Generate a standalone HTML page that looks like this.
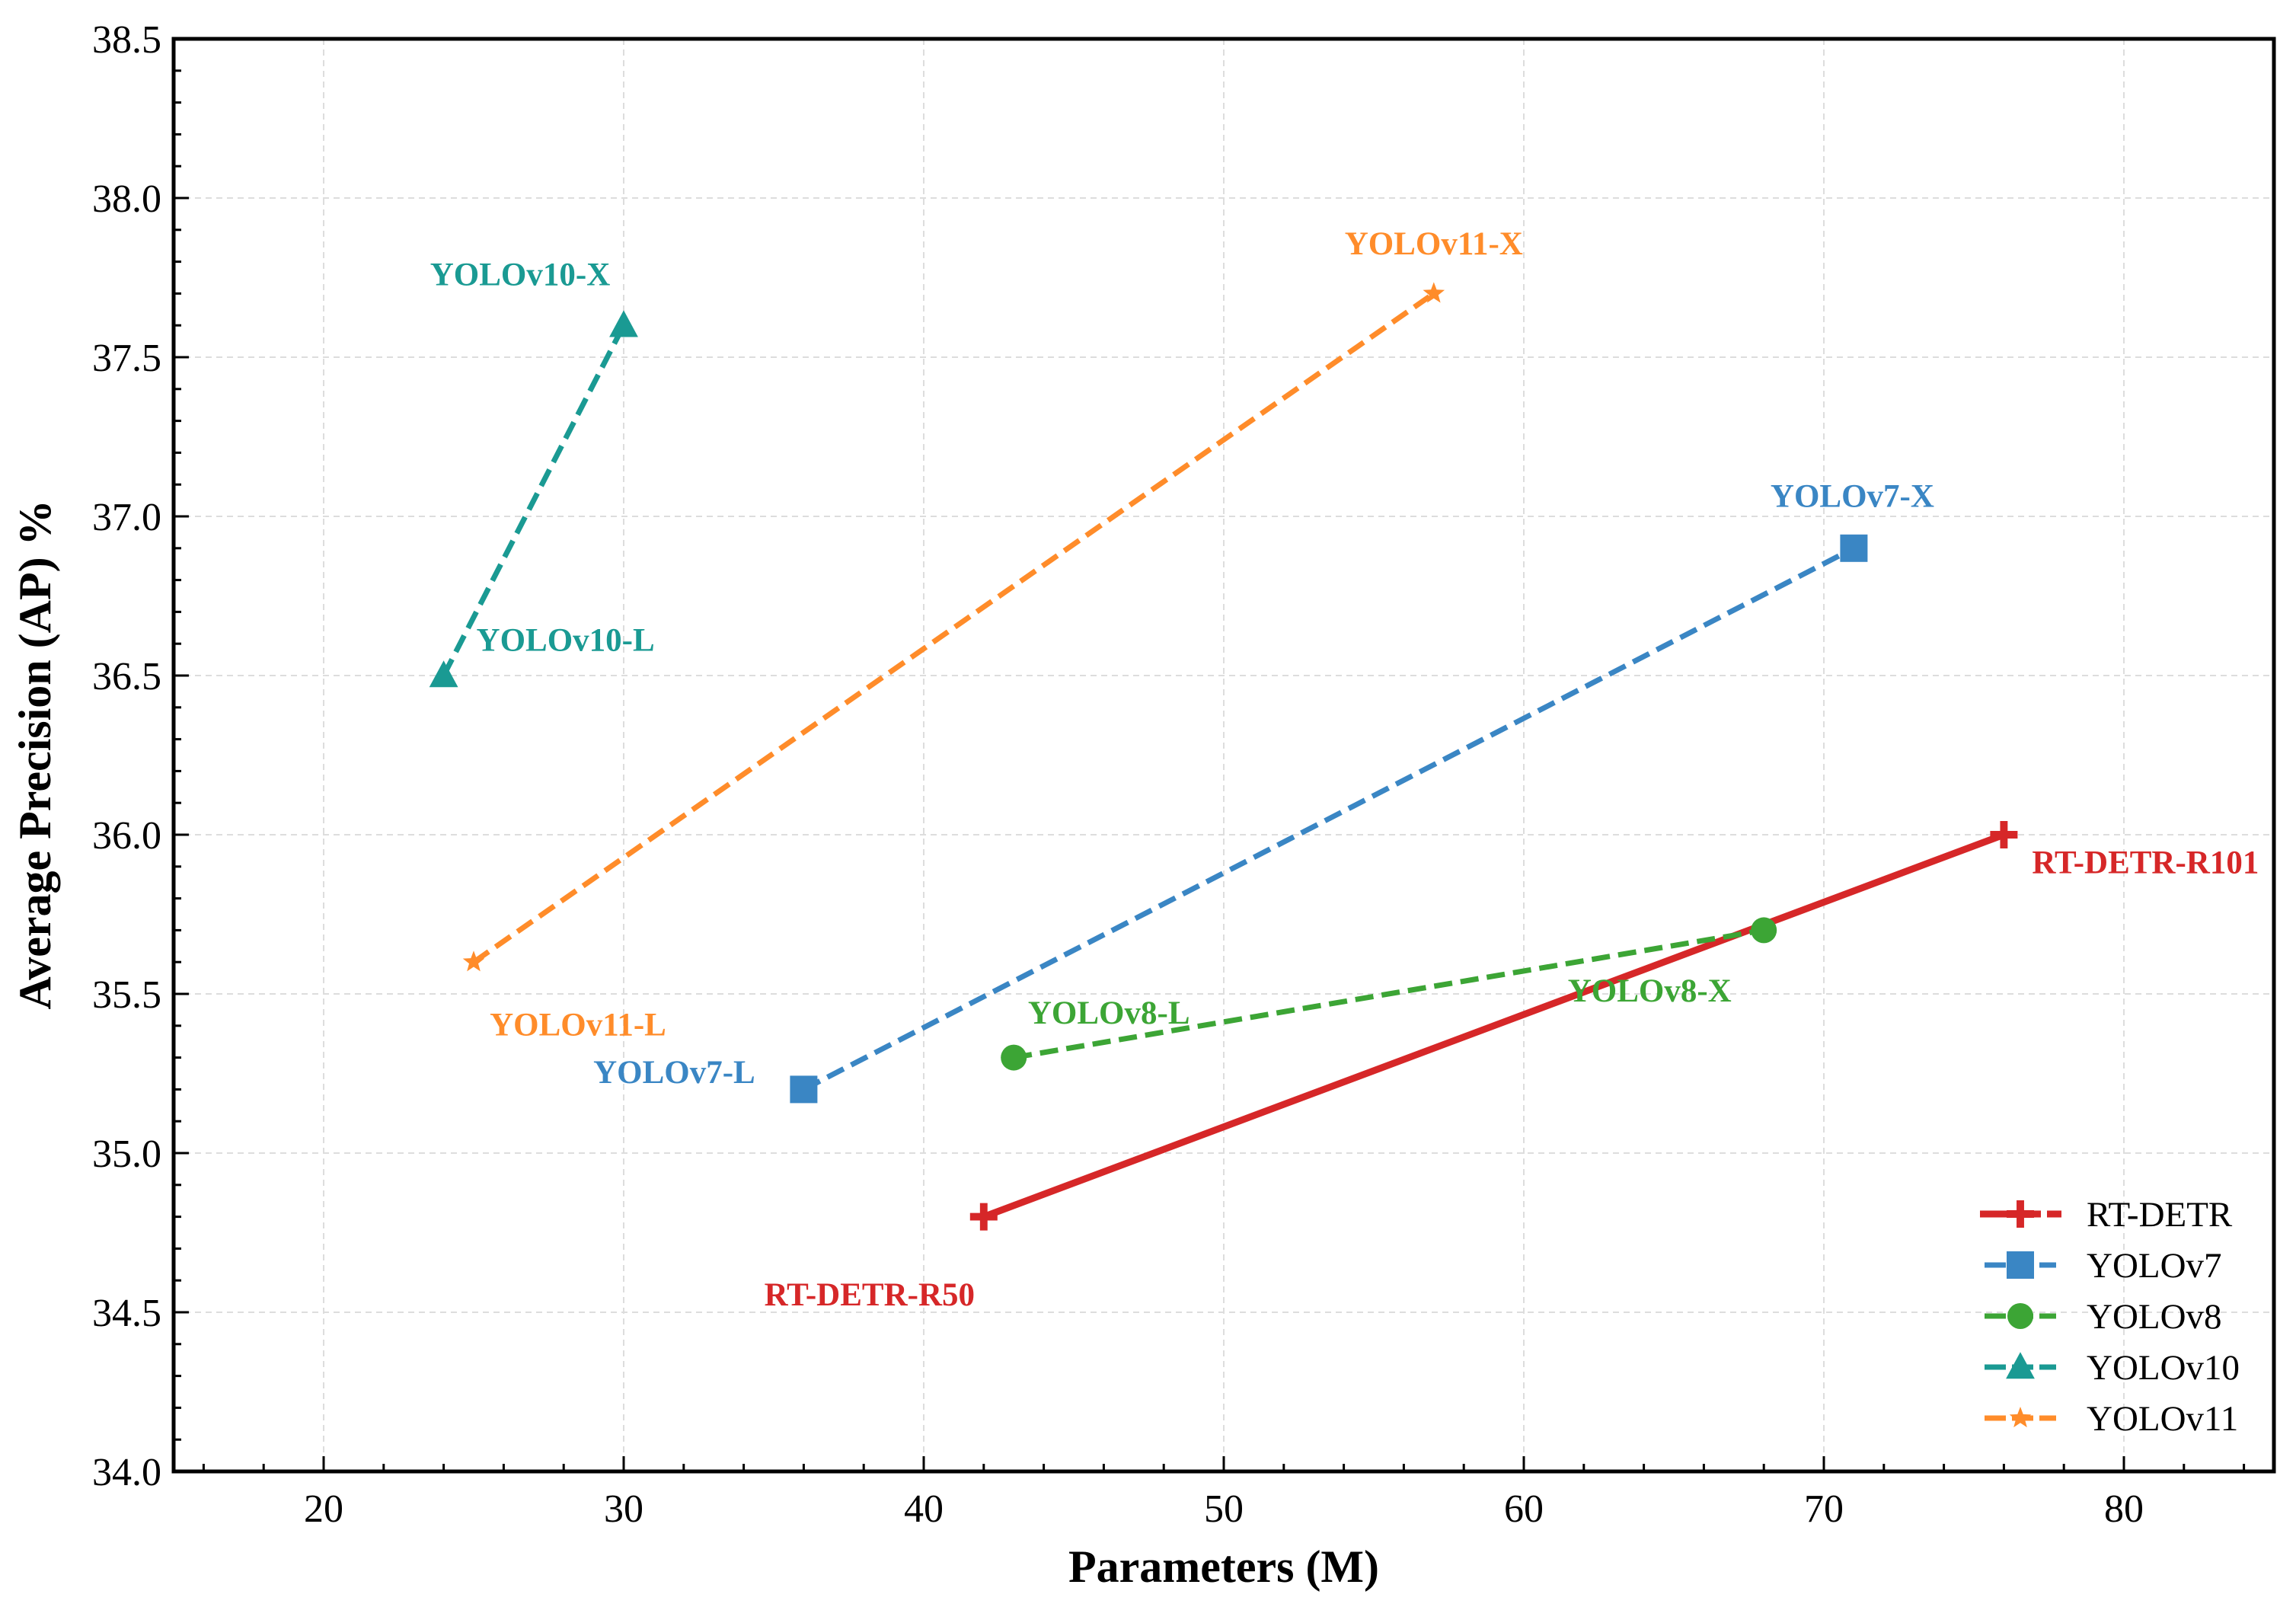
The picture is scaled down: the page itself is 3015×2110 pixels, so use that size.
<!DOCTYPE html>
<html><head><meta charset="utf-8"><style>
html,body{margin:0;padding:0;background:#fff;}
svg{display:block;font-family:"Liberation Serif",serif;}
</style></head><body>
<svg id="chart" width="3015" height="2110" xmlns="http://www.w3.org/2000/svg">
<g id="grid"></g>
<g id="series"></g>
<g id="labels"></g>
<g id="axes"></g>
<g id="legend"></g>
<text x="1607" y="2077" font-size="60" font-weight="bold" text-anchor="middle">Parameters (M)</text>
<text transform="translate(66,991) rotate(-90)" font-size="60" font-weight="bold" text-anchor="middle">Average Precision (AP) %</text>
</svg>
<script>
const seriesNames = ["RT-DETR","YOLOv7","YOLOv8","YOLOv10","YOLOv11"];
const seriesColors = ["#d62728","#3a86c4","#3ca535","#1a9a93","#ff8c2a"];
const seriesMarkers = ["plus","square","circle","triangle","star"];
const rtdetrX = [42,76];   const rtdetrY = [34.8,36.0];
const yolo7X = [36,71];    const yolo7Y = [35.2,36.9];
const yolo8X = [43,68];    const yolo8Y = [35.3,35.7];
const yolo10X = [24,30];   const yolo10Y = [36.5,37.6];
const yolo11X = [25,57];   const yolo11Y = [35.6,37.7];
const pointLabels = [["RT-DETR-R50","RT-DETR-R101"],["YOLOv7-L","YOLOv7-X"],["YOLOv8-L","YOLOv8-X"],["YOLOv10-L","YOLOv10-X"],["YOLOv11-L","YOLOv11-X"]];
const xTicks = [20,30,40,50,60,70,80];
const yTicks = [34.0,34.5,35.0,35.5,36.0,36.5,37.0,37.5,38.0,38.5];

const L=228,R=2986,T=51,B=1932, XMIN=15,XMAX=85,YMIN=34,YMAX=38.5;
const sx=v=>L+(v-XMIN)/(XMAX-XMIN)*(R-L);
const sy=v=>B-(v-YMIN)/(YMAX-YMIN)*(B-T);
const NS="http://www.w3.org/2000/svg";
function mk(tag,attrs,parent){const e=document.createElementNS(NS,tag);for(const k in attrs)e.setAttribute(k,attrs[k]);parent.appendChild(e);return e;}
const grid=document.getElementById('grid'),axes=document.getElementById('axes'),ser=document.getElementById('series'),lab=document.getElementById('labels'),leg=document.getElementById('legend');

xTicks.forEach(v=>{const l=mk('line',{x1:sx(v),x2:sx(v),y1:T,y2:B,stroke:'#ddd','stroke-width':2,'stroke-dasharray':'8,6'},grid);
});
yTicks.forEach(v=>{const l=mk('line',{x1:L,x2:R,y1:sy(v),y2:sy(v),stroke:'#ddd','stroke-width':2,'stroke-dasharray':'8,6'},grid);
});

function marker(type,x,y,c,s,parent){
  let e;
  if(type==='plus'){e=mk('path',{d:`M${x-s},${y}H${x+s}M${x},${y-s}V${y+s}`,stroke:c,'stroke-width':s*0.55,fill:'none'},parent);}
  else if(type==='square'){e=mk('rect',{x:x-s,y:y-s,width:2*s,height:2*s,fill:c},parent);}
  else if(type==='circle'){e=mk('circle',{cx:x,cy:y,r:s,fill:c},parent);}
  else if(type==='triangle'){e=mk('path',{d:`M${x},${y-s*1.1}L${x+s*1.05},${y+s*0.85}L${x-s*1.05},${y+s*0.85}Z`,fill:c},parent);}
  else {let p='';for(let i=0;i<10;i++){const r=i%2?s*0.42:s;const a=-Math.PI/2+i*Math.PI/5;p+=(i?'L':'M')+(x+r*Math.cos(a))+','+(y+r*Math.sin(a));}e=mk('path',{d:p+'Z',fill:c},parent);}
  return e;
}
const allX=[rtdetrX,yolo7X,yolo8X,yolo10X,yolo11X], allY=[rtdetrY,yolo7Y,yolo8Y,yolo10Y,yolo11Y];
const msize=[18,18,17,18,15];
allX.forEach((xs,i)=>{
  const c=seriesColors[i];
  const pts=xs.map((x,j)=>sx(x)+','+sy(allY[i][j])).join(' ');
  const pl=mk('polyline',{points:pts,fill:'none',stroke:c,'stroke-width':i===0?9:7,'stroke-dasharray':i===0?'none':'24,11'},ser);
  
  
  xs.forEach((x,j)=>{const m=marker(seriesMarkers[i],sx(x),sy(allY[i][j]),c,msize[i],ser);
    
    });
});
const labOff=[[[-150,103],[186,37]],[[-170,-22],[-2,-68]],[[125,-58],[-150,80]],[[160,-46],[-136,-66]],[[137,83],[0,-65]]];
allX.forEach((xs,i)=>{xs.forEach((x,j)=>{
  const t=mk('text',{x:sx(x)+labOff[i][j][0],y:sy(allY[i][j])+labOff[i][j][1],fill:seriesColors[i],'font-size':43,'font-weight':'bold','text-anchor':'middle','dominant-baseline':'central'},lab);
  t.textContent=pointLabels[i][j];
  
  
});});

const fr=mk('rect',{x:L,y:T,width:R-L,height:B-T,fill:'none',stroke:'#000','stroke-width':5},axes);

for(let v=16;v<=84;v+=2){const maj=xTicks.includes(v);const len=maj?20:10;
  const t=mk('line',{x1:sx(v),x2:sx(v),y1:B,y2:B-len,stroke:'#000','stroke-width':3},axes);
  }
xTicks.forEach(v=>{const t=mk('text',{x:sx(v),y:B+66,'font-size':52,'text-anchor':'middle'},axes);t.textContent=v;
  });
for(let k=0;k<=45;k++){const v=34+k*0.1;const maj=k%5===0;const len=maj?20:10;
  const t=mk('line',{x1:L,x2:L+len,y1:sy(v),y2:sy(v),stroke:'#000','stroke-width':3},axes);
  }
yTicks.forEach(v=>{const t=mk('text',{x:L-16,y:sy(v)+18,'font-size':52,'text-anchor':'end'},axes);t.textContent=v.toFixed(1);
  });

seriesNames.forEach((n,i)=>{
  const y=1594+i*67, c=seriesColors[i];
  const g=mk('g',{},leg);
  
  
  mk('line',{x1:i===0?2600:2606,x2:i===0?2707:2700,y1:y,y2:y,stroke:c,'stroke-width':i===0?9:7,'stroke-dasharray':i===0?'36,8':'28,8'},g);
  marker(seriesMarkers[i],2653,y,c,msize[i],g);
  const t=mk('text',{x:2740,y:y+16,'font-size':47},g);t.textContent=n;
});
</script>
</body></html>
